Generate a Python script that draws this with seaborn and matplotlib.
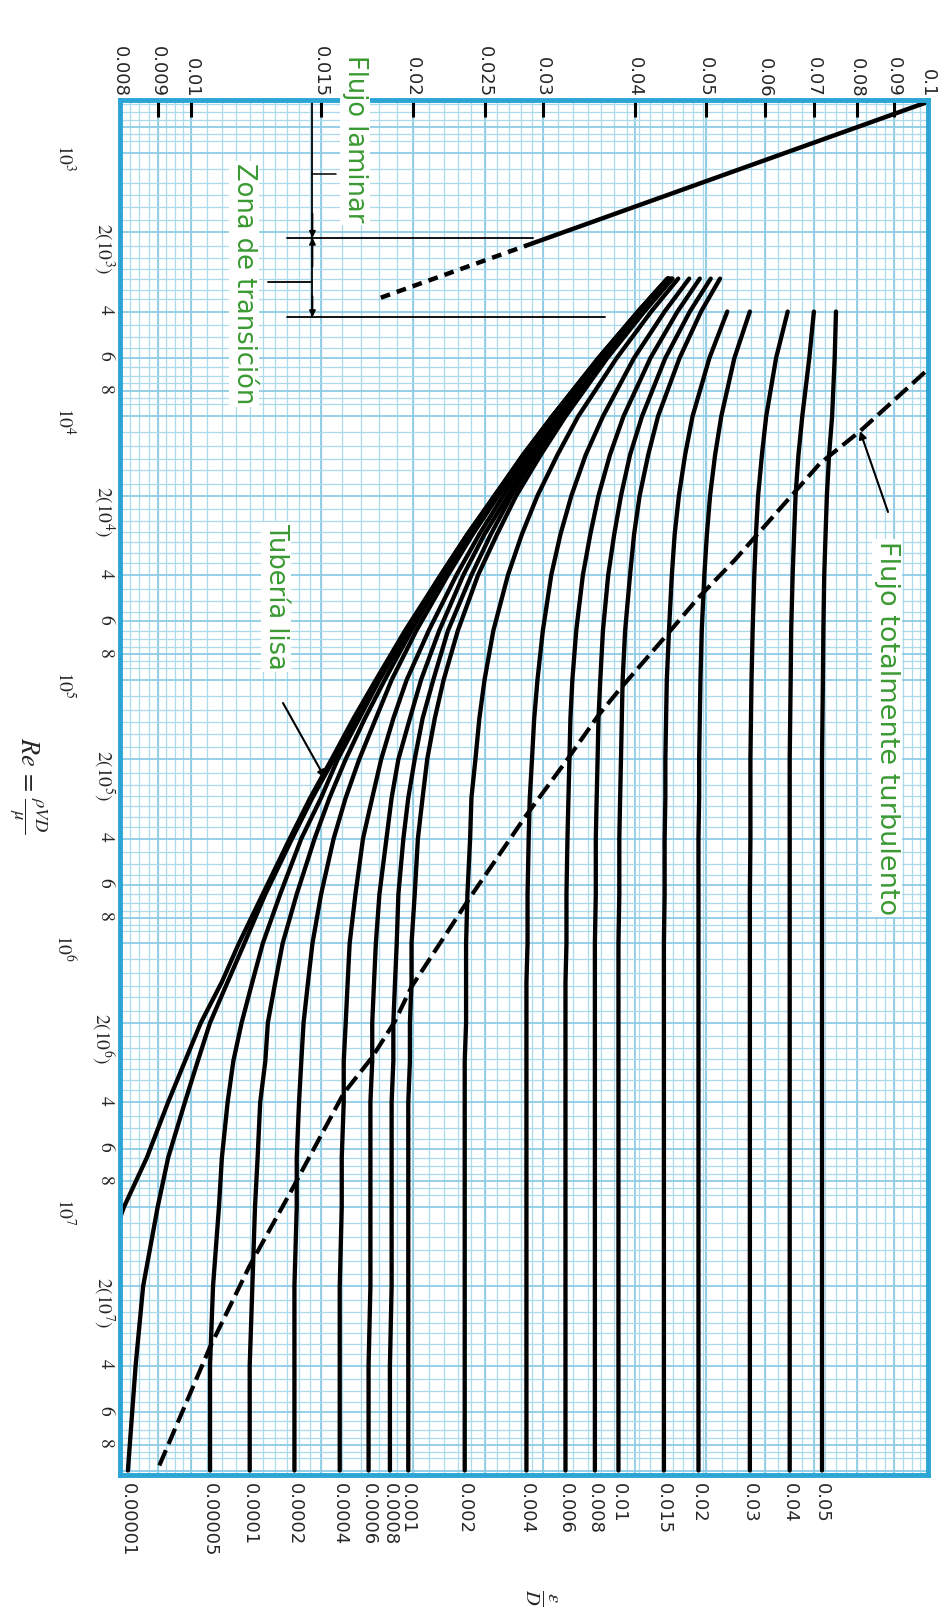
import matplotlib
matplotlib.use('Agg')
import matplotlib.pyplot as plt
from matplotlib.ticker import NullLocator
import numpy as np
import pandas as pd
import seaborn as sns

re_points = [3e3, 4e3, 6e3, 1e4, 1.4e4, 2e4, 2.8e4, 4e4, 6.5e4, 1e5, 1.4e5, 2e5, 2.8e5,
             4e5, 6.5e5, 1e6, 1.4e6, 2e6, 2.8e6, 4e6, 6.5e6, 1e7, 2e7, 4e7, 1e8]

# friction factor read at each Re (None = curve not drawn there)
f_smooth = [0.0443, 0.0404, 0.0357, 0.0309, 0.0282, 0.0258, 0.0237, 0.0218, 0.0195, 0.0178, 0.0166, 0.0155, 0.0145,
            0.0136, 0.0125, 0.0116, 0.0110, 0.0103, 0.0098, 0.0093, 0.0087, 0.0081, 0.0074, None, None]
f_00001 = [0.0443, 0.0404, 0.0357, 0.0309, 0.0282, 0.0258, 0.0237, 0.0218, 0.0196, 0.0179, 0.0167, 0.0156, 0.0146,
           0.0137, 0.0126, 0.0118, 0.0112, 0.0106, 0.0102, 0.0098, 0.0093, 0.0090, 0.0086, 0.0084, 0.0082]
f_00005 = [0.0443, 0.0404, 0.0358, 0.0309, 0.0283, 0.0258, 0.0238, 0.0219, 0.0197, 0.0180, 0.0169, 0.0158, 0.0150,
           0.0141, 0.0132, 0.0125, 0.0121, 0.0117, 0.0114, 0.0112, 0.0110, 0.0109, 0.0107, 0.0106, 0.0106]
f_0001 = [0.0444, 0.0405, 0.0358, 0.0310, 0.0283, 0.0259, 0.0239, 0.0220, 0.0199, 0.0183, 0.0172, 0.0162, 0.0154,
          0.0147, 0.0139, 0.0133, 0.0130, 0.0127, 0.0126, 0.0124, 0.0123, 0.0122, 0.0121, 0.0120, 0.0120]
f_0002 = [0.0445, 0.0406, 0.0359, 0.0311, 0.0285, 0.0261, 0.0241, 0.0223, 0.0202, 0.0187, 0.0178, 0.0169, 0.0162,
          0.0156, 0.0150, 0.0146, 0.0144, 0.0142, 0.0141, 0.0140, 0.0139, 0.0139, 0.0138, 0.0138, 0.0138]
f_0004 = [0.0446, 0.0407, 0.0361, 0.0314, 0.0288, 0.0265, 0.0246, 0.0229, 0.0210, 0.0196, 0.0188, 0.0181, 0.0176,
          0.0171, 0.0167, 0.0164, 0.0163, 0.0162, 0.0161, 0.0161, 0.0160, 0.0160, 0.0159, 0.0159, 0.0159]
f_0006 = [0.0447, 0.0409, 0.0363, 0.0316, 0.0291, 0.0269, 0.0250, 0.0234, 0.0217, 0.0205, 0.0198, 0.0191, 0.0187,
          0.0184, 0.0180, 0.0178, 0.0177, 0.0176, 0.0176, 0.0175, 0.0175, 0.0175, 0.0175, 0.0174, 0.0174]
f_0008 = [0.0449, 0.0410, 0.0365, 0.0319, 0.0294, 0.0272, 0.0255, 0.0240, 0.0223, 0.0213, 0.0206, 0.0201, 0.0197,
          0.0194, 0.0191, 0.0190, 0.0189, 0.0188, 0.0188, 0.0187, 0.0187, 0.0187, 0.0187, 0.0186, 0.0186]
f_001 = [0.0450, 0.0412, 0.0367, 0.0322, 0.0298, 0.0276, 0.0260, 0.0245, 0.0230, 0.0220, 0.0214, 0.0209, 0.0206,
         0.0203, 0.0201, 0.0199, 0.0199, 0.0198, 0.0198, 0.0197, 0.0197, 0.0197, 0.0197, 0.0197, 0.0197]
f_002 = [0.0458, 0.0421, 0.0378, 0.0335, 0.0314, 0.0295, 0.0281, 0.0269, 0.0257, 0.0250, 0.0246, 0.0243, 0.0240,
         0.0239, 0.0237, 0.0236, 0.0236, 0.0236, 0.0235, 0.0235, 0.0235, 0.0235, 0.0235, 0.0235, 0.0235]
f_004 = [0.0474, 0.0439, 0.0399, 0.0362, 0.0343, 0.0328, 0.0317, 0.0308, 0.0300, 0.0295, 0.0292, 0.0290, 0.0288,
         0.0287, 0.0286, 0.0286] + [0.0285] * 9
f_006 = [0.0490, 0.0457, 0.0420, 0.0386, 0.0370, 0.0357, 0.0348, 0.0340, 0.0333, 0.0329, 0.0327, 0.0326, 0.0325,
         0.0324, 0.0323, 0.0323] + [0.0322] * 9
f_008 = [0.0507, 0.0475, 0.0440, 0.0409, 0.0394, 0.0383, 0.0375, 0.0368, 0.0362, 0.0359, 0.0357, 0.0356, 0.0355,
         0.0354, 0.0354] + [0.0353] * 10
f_01 = [0.0522, 0.0492, 0.0460, 0.0430, 0.0417, 0.0406, 0.0399, 0.0394, 0.0388, 0.0385, 0.0384, 0.0383, 0.0382,
        0.0381, 0.0381] + [0.0380] * 10
f_015 = [None, 0.0534, 0.0505, 0.0479, 0.0468, 0.0459, 0.0453, 0.0449, 0.0445, 0.0442, 0.0441, 0.0440, 0.0440,
         0.0439, 0.0439] + [0.0438] * 10
f_02 = [None, 0.0573, 0.0546, 0.0524, 0.0514, 0.0506, 0.0501, 0.0497, 0.0493, 0.0491, 0.0490, 0.0489, 0.0489] + [0.0488] * 12
f_03 = [None, 0.0645, 0.0622, 0.0603, 0.0595, 0.0588, 0.0584, 0.0581, 0.0578, 0.0576, 0.0575, 0.0574, 0.0574,
        0.0574] + [0.0573] * 11
f_04 = [None, 0.0700, 0.0690, 0.0675, 0.0667, 0.0661, 0.0658, 0.0655, 0.0652, 0.0651, 0.0650] + [0.0649] * 14
f_05 = [None, 0.0750, 0.0747, 0.0741, 0.0734, 0.0729, 0.0726, 0.0723, 0.0721, 0.0720, 0.0719] + [0.0718] * 14

rough_labels = ['0.00001', '0.00005', '0.0001', '0.0002', '0.0004', '0.0006', '0.0008', '0.001',
                '0.002', '0.004', '0.006', '0.008', '0.01', '0.015', '0.02', '0.03', '0.04', '0.05']
rough_curves = [f_00001, f_00005, f_0001, f_0002, f_0004, f_0006, f_0008, f_001,
                f_002, f_004, f_006, f_008, f_01, f_015, f_02, f_03, f_04, f_05]

# laminar line f = 64/Re, solid then dashed into the transition zone
lam_re = [630, 2200]
lam_f = [0.1016, 0.0291]
lam_dash_re = [2200, 3600]
lam_dash_f = [0.0291, 0.0178]

# dashed boundary of the fully turbulent zone
turb_f = [0.0990, 0.0808, 0.0713, 0.0547, 0.0487, 0.0445, 0.0381, 0.0357, 0.0324, 0.0284,
          0.0238, 0.0199, 0.0189, 0.0176, 0.0161, 0.0136, 0.0120, 0.0106, 0.0090]
turb_re = [6.8e3, 1.14e4, 1.51e4, 3.5e4, 4.9e4, 6.6e4, 1.09e5, 1.36e5, 2.0e5, 3.3e5,
           6.8e5, 1.46e6, 1.97e6, 2.7e6, 3.7e6, 8.9e6, 1.67e7, 3.4e7, 9.9e7]

f_ticks = [0.008, 0.009, 0.01, 0.015, 0.02, 0.025, 0.03, 0.04, 0.05, 0.06, 0.07, 0.08, 0.09, 0.1]
f_tick_labels = ['0.008', '0.009', '0.01', '0.015', '0.02', '0.025', '0.03', '0.04', '0.05',
                 '0.06', '0.07', '0.08', '0.09', '0.1']
re_major = [1e3, 1e4, 1e5, 1e6, 1e7]
re_major_labels = [r'$10^3$', r'$10^4$', r'$10^5$', r'$10^6$', r'$10^7$']

sns.set_style('white')
plt.rcParams['font.family'] = ['DejaVu Sans']
plt.rcParams['mathtext.fontset'] = 'stix'

FRAME = '#2ba4d6'
GRID = '#acdaed'
GRID2 = '#8ecce5'
GREEN = '#3a9a32'

W, H = 946, 1610
def px(x, y):
    return x / W, 1 - y / H

fig = plt.figure(figsize=(W / 100, H / 100), dpi=100)
ax = fig.add_axes([120 / W, 1 - 1475 / H, 808 / W, 1375 / H])
ax.set_xscale('log')
ax.set_yscale('log')
ax.set_xlim(0.008, 0.1)
ax.set_ylim(1.04e8, 630)

# chart-paper grid
grid_f = np.concatenate([np.arange(0.008, 0.010, 0.00025), np.arange(0.010, 0.015, 0.0005),
                         np.arange(0.015, 0.030, 0.001), np.arange(0.030, 0.050, 0.0015),
                         np.arange(0.050, 0.1, 0.0025)])
for g in grid_f:
    ax.axvline(g, color=GRID, lw=0.9, zorder=0)
for g in f_ticks:
    ax.axvline(g, color=GRID2, lw=1.3, zorder=0)
mant = [1.15, 1.3, 1.45, 1.6, 1.8, 2.25, 2.5, 2.75, 3, 3.3, 3.6, 4.5, 5, 5.5, 6.5, 7, 7.5, 8.5, 9]
for dec in [1e2, 1e3, 1e4, 1e5, 1e6, 1e7, 1e8]:
    for m in mant:
        ax.axhline(m * dec, color=GRID, lw=0.9, zorder=0)
    for m in [1, 2, 4, 6, 8]:
        ax.axhline(m * dec, color=GRID2, lw=1.3, zorder=0)

# curves
rows = []
for lab, vals in zip(['lisa'] + rough_labels, [f_smooth] + rough_curves):
    for r, f in zip(re_points, vals):
        if f is not None:
            rows.append({'curve': lab, 'Re': r, 'f': f})
df = pd.DataFrame(rows)
sns.lineplot(data=df, x='f', y='Re', units='curve', estimator=None, sort=False,
             color='black', lw=3.1, legend=False, ax=ax, zorder=3)

sns.lineplot(x=lam_f, y=lam_re, sort=False, color='black', lw=3.2, ax=ax, zorder=3)
sns.lineplot(x=lam_dash_f, y=lam_dash_re, sort=False, color='black', lw=3.2, ax=ax, zorder=3)
ax.lines[-1].set_dashes([2.2, 1.6])
sns.lineplot(x=turb_f, y=turb_re, sort=False, color='black', lw=3, ax=ax, zorder=3)
ax.lines[-1].set_dashes([4, 1.6])

# transition zone bracket
xb = 0.0146
ax.plot([xb, xb], [630, 4200], color='black', lw=1.3, zorder=3)
ax.plot([0.0135, 0.0291], [2100, 2100], color='black', lw=1.3, zorder=3)
ax.plot([0.0127, xb], [3100, 3100], color='black', lw=1.3, zorder=3)
ax.plot([0.0135, 0.0364], [4200, 4200], color='black', lw=1.3, zorder=3)
ax.plot([xb, 0.0157], [1200, 1200], color='black', lw=1.1, zorder=3)
arrow = dict(arrowstyle='-|>', color='black', lw=1.3, mutation_scale=9, shrinkA=0, shrinkB=0)
ax.annotate('', xy=(xb, 2100), xytext=(xb, 1700), arrowprops=arrow)
ax.annotate('', xy=(xb, 2100), xytext=(xb, 2700), arrowprops=arrow)
ax.annotate('', xy=(xb, 4200), xytext=(xb, 3500), arrowprops=arrow)

# frame
for s in ax.spines.values():
    s.set_color(FRAME)
    s.set_linewidth(3.5)
    s.set_zorder(4)

# friction factor ticks on top
ax.xaxis.set_ticks_position('top')
ax.set_xticks(f_ticks, f_tick_labels)
ax.xaxis.set_minor_locator(NullLocator())
ax.tick_params(axis='x', which='major', direction='in', length=12, width=2.2, color='black',
               pad=2, labelsize=13, labelrotation=-90)
ax.set_xlabel('')
ax.set_ylabel('')

# Reynolds ticks on the left
re_minor = [8e2]
re_minor_labels = ['']
for k in range(3, 8):
    for m in [2, 4, 6, 8]:
        re_minor.append(m * 10 ** k)
        re_minor_labels.append(r'$2(10^%d)$' % k if m == 2 else r'$%d$' % m)
ax.set_yticks(re_major, re_major_labels)
ax.set_yticks(re_minor, re_minor_labels, minor=True)
ax.tick_params(axis='y', which='major', direction='out', length=27, width=2.2, color='black',
               pad=5, labelsize=14, labelrotation=-90)
ax.tick_params(axis='y', which='minor', direction='in', length=9.5, width=2.2, color='black',
               pad=3, labelsize=14, labelrotation=-90)

# relative roughness labels at the curve ends
sec = ax.secondary_xaxis('bottom')
sec.set_xticks([c[-1] for c in rough_curves], rough_labels)
sec.xaxis.set_minor_locator(NullLocator())
sec.tick_params(axis='x', length=0, pad=6, labelsize=13, labelrotation=-90)
sec.spines['bottom'].set_visible(False)

# axis names
fig.text(*px(28, 785), r'$Re\,=\,\frac{\rho VD}{\mu}$', rotation=-90, ha='center', va='center', fontsize=19)
fig.text(*px(541, 1597), r'$\frac{\epsilon}{D}$', rotation=-90, ha='center', va='center', fontsize=21)

# zone labels
box = dict(facecolor='white', edgecolor='none', pad=1.5)
fig.text(*px(355, 139), 'Flujo laminar', rotation=-90, ha='center', va='center',
         color=GREEN, fontsize=18.5, bbox=box, zorder=6)
fig.text(*px(244, 284), 'Zona de transición', rotation=-90, ha='center', va='center',
         color=GREEN, fontsize=18.5, bbox=box, zorder=6)
fig.text(*px(276, 597), 'Tubería lisa', rotation=-90, ha='center', va='center',
         color=GREEN, fontsize=18.5, bbox=box, zorder=6)
fig.text(*px(887, 728), 'Flujo totalmente turbulento', rotation=-90, ha='center', va='center',
         color=GREEN, fontsize=19.5, bbox=box, zorder=6)

arrow2 = dict(arrowstyle='-|>', color='black', lw=1.5, mutation_scale=11, shrinkA=0, shrinkB=0)
ax.annotate('', xy=px(325, 778), xycoords='figure fraction', xytext=px(283, 703),
            textcoords='figure fraction', arrowprops=arrow2)
ax.annotate('', xy=px(860, 431), xycoords='figure fraction', xytext=px(888, 512),
            textcoords='figure fraction', arrowprops=arrow2)

fig.savefig('out.png', dpi=100)
